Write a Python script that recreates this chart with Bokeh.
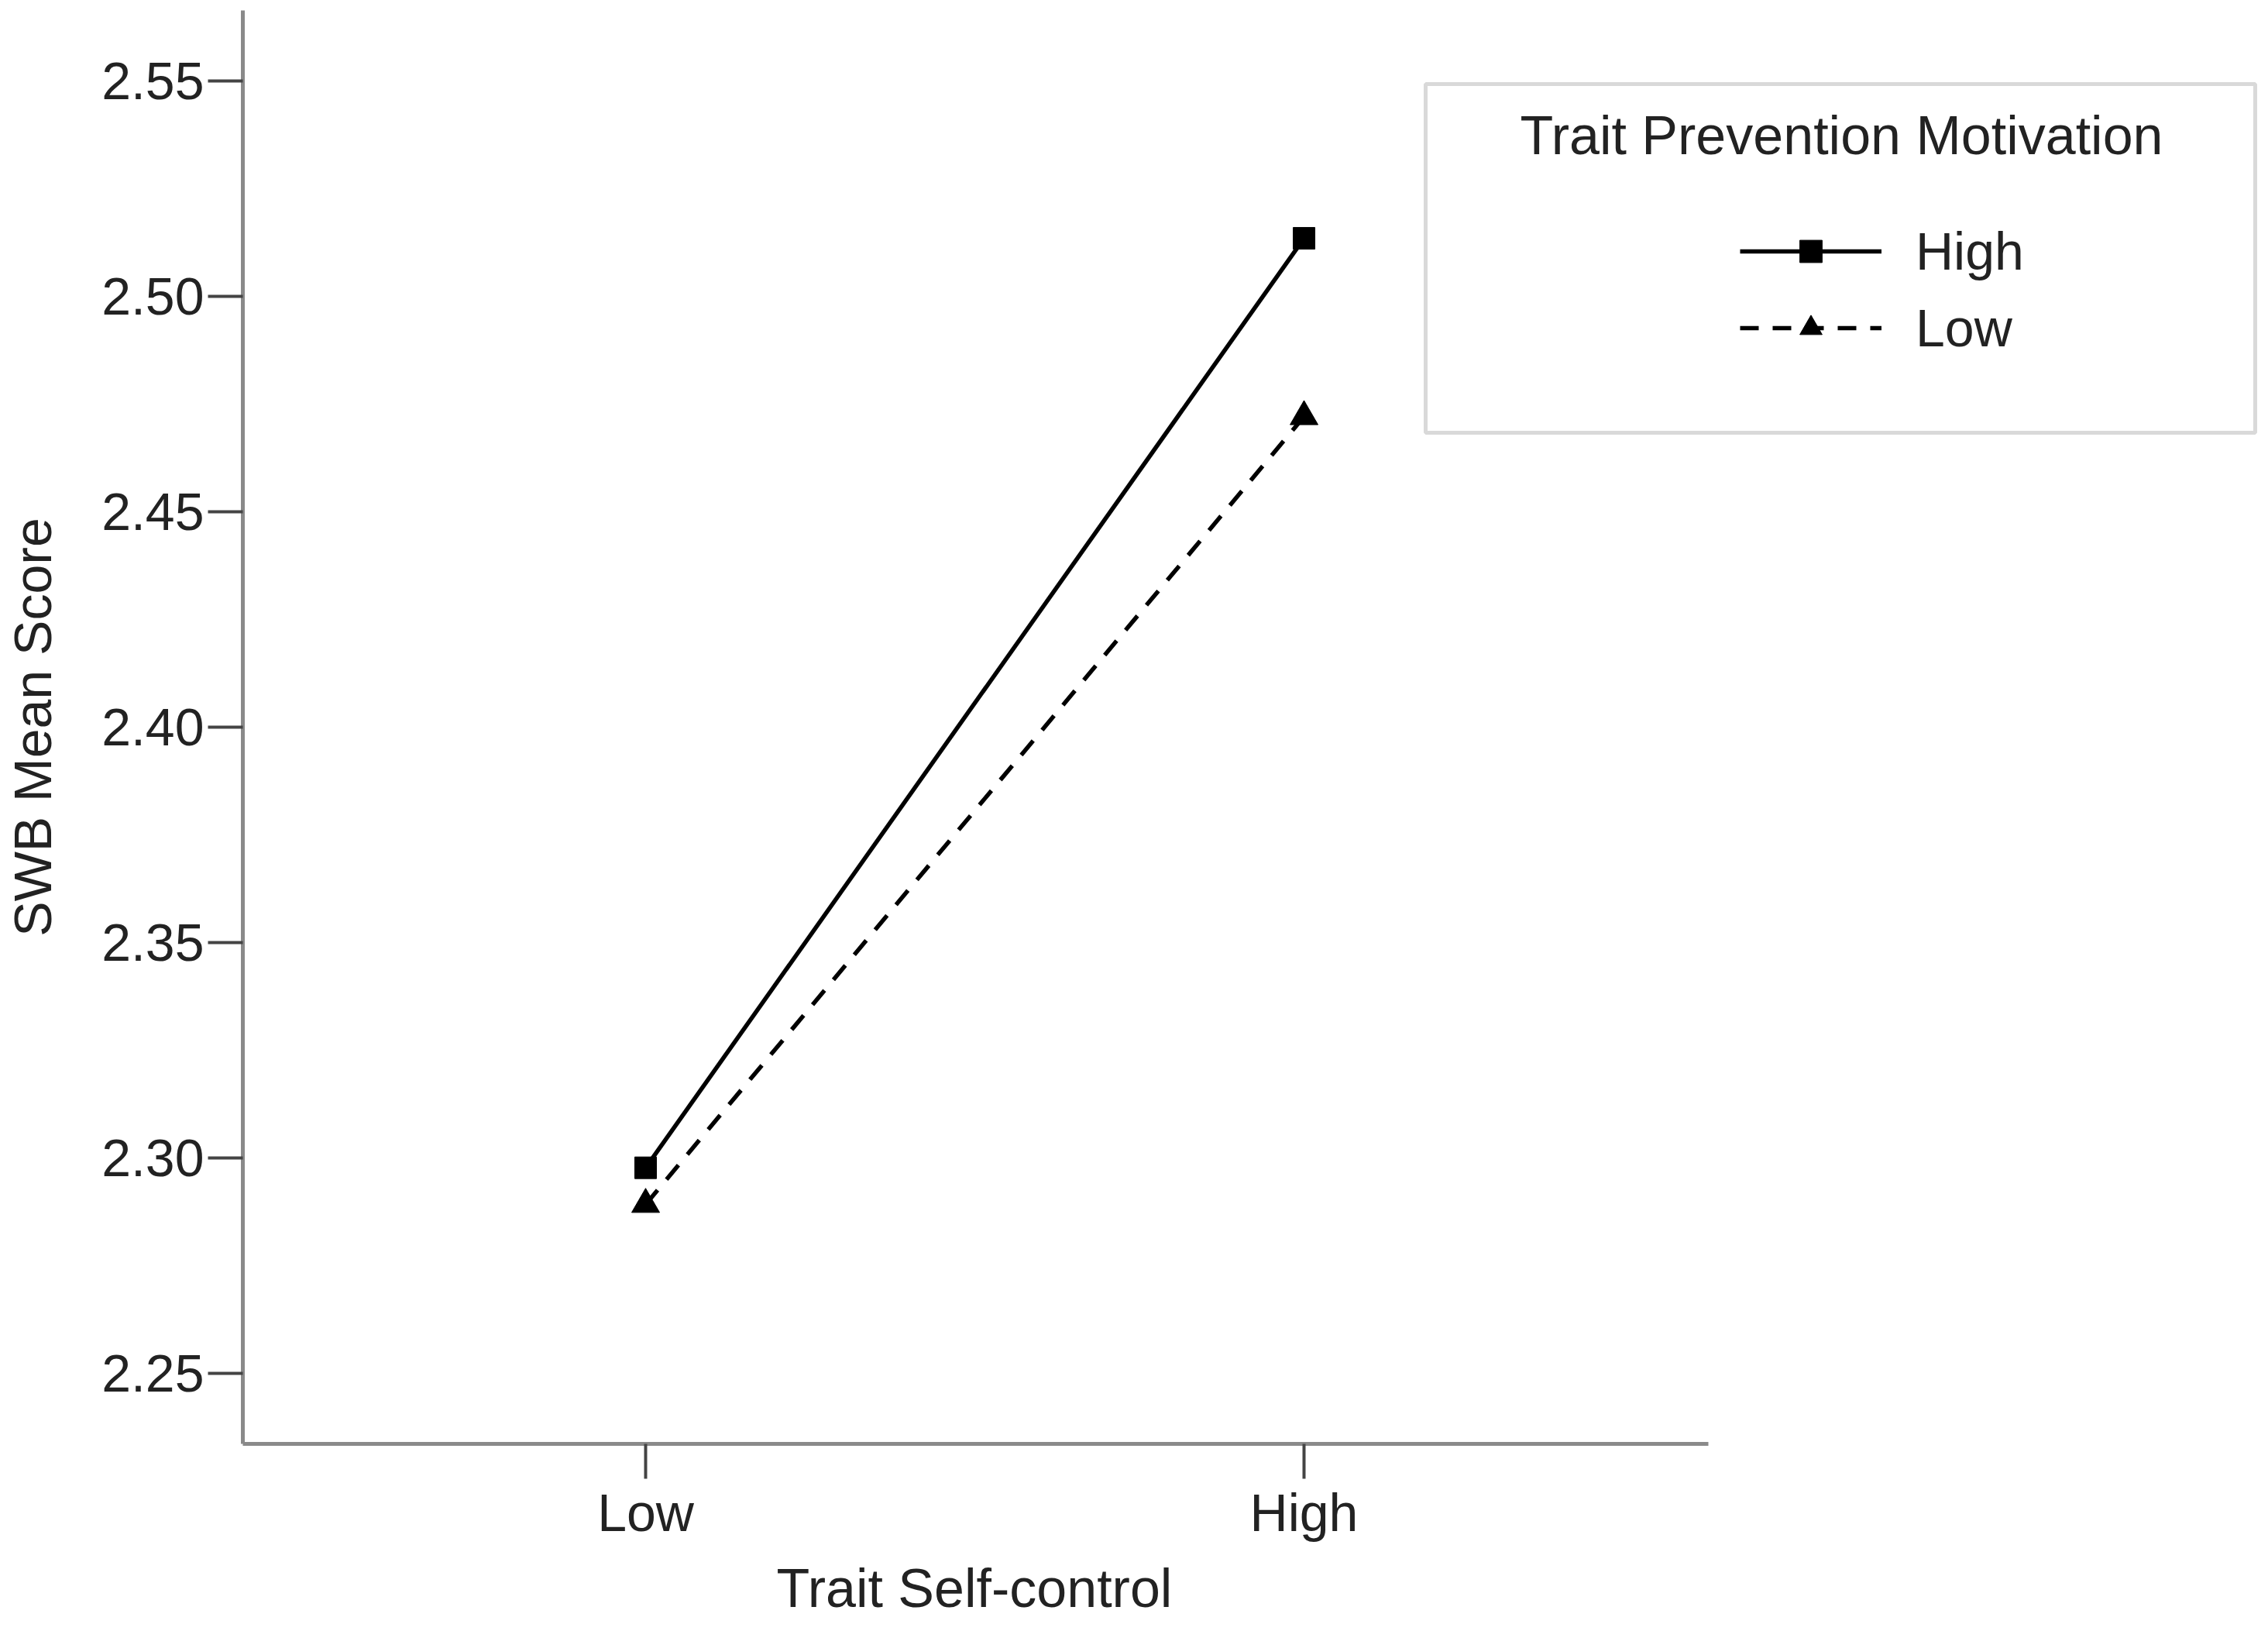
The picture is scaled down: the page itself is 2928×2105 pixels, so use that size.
from bokeh.plotting import figure
from bokeh.models import Range1d, FixedTicker, Legend, LegendItem, BoxAnnotation, Label, Title, NumeralTickFormatter
from bokeh.embed import file_html
from bokeh.resources import INLINE

# ---- data ----
categories = ["Low", "High"]                 # Trait Self-control
prev_high = [2.2977, 2.5135]                 # Trait Prevention Motivation: High
prev_low = [2.2892, 2.4721]                  # Trait Prevention Motivation: Low
y_ticks = [2.25, 2.30, 2.35, 2.40, 2.45, 2.50, 2.55]
series_names = ["High", "Low"]
legend_title = "Trait Prevention Motivation"
x_title = "Trait Self-control"
y_title = "SWB Mean Score"

FONT = "Liberation Sans"
FS = "68px"
TXT = "#222222"
AXC = "#8a8a8a"

xs = list(range(len(categories)))

p = figure(width=2928, height=2105,
           x_range=Range1d(-0.6118, 2.4647), y_range=Range1d(2.2336, 2.5664),
           output_backend="svg", toolbar_location=None,
           min_border_left=313, min_border_right=0, min_border_top=13, min_border_bottom=242)
p.outline_line_color = None
p.grid.visible = False
p.background_fill_color = "white"
p.border_fill_color = "white"

# axes
p.xaxis.ticker = FixedTicker(ticks=xs)
p.xaxis.major_label_overrides = {i: c for i, c in zip(xs, categories)}
p.xaxis.bounds = (-0.6118, 1.6141)
p.yaxis.ticker = FixedTicker(ticks=y_ticks)
p.yaxis.formatter = NumeralTickFormatter(format="0.00")
for ax in (p.xaxis[0], p.yaxis[0]):
    ax.axis_line_color = AXC
    ax.axis_line_width = 5
    ax.major_tick_line_color = "#444444"
    ax.major_tick_line_width = 4
    ax.major_tick_in = 0
    ax.major_tick_out = 45
    ax.minor_tick_line_color = None
    ax.major_label_text_font = FONT
    ax.major_label_text_font_size = FS
    ax.major_label_text_color = TXT
    ax.major_label_standoff = 5
    ax.axis_label_text_font = FONT
    ax.axis_label_text_font_size = FS
    ax.axis_label_text_font_style = "normal"
    ax.axis_label_text_color = TXT
p.yaxis.axis_label = y_title
p.yaxis.axis_label_standoff = 48

# x-axis title, centred under the visible part of the axis
p.add_layout(Title(text=x_title, align="left", offset=689, standoff=32,
                   vertical_align="bottom",
                   text_font=FONT, text_font_size="70px", text_font_style="normal",
                   text_color=TXT), "below")

# series
l_high = p.line(xs, prev_high, line_color="black", line_width=5.5)
s_high = p.scatter(xs, prev_high, marker="square", size=28, fill_color="black", line_color="black")
l_low = p.line(xs, prev_low, line_color="black", line_width=5.5, line_dash="24 18")
s_low = p.scatter(xs, prev_low, marker="triangle", size=36, fill_color="black", line_color="black")

# legend box and title
box = BoxAnnotation(left=1527, right=2598, top=1755, bottom=1305,
                    left_units="screen", right_units="screen",
                    top_units="screen", bottom_units="screen",
                    fill_alpha=0, line_color="#808080", line_width=5)
p.add_layout(box)
p.add_layout(Label(x=2064, y=1689, x_units="screen", y_units="screen",
                   text=legend_title, text_align="center", text_baseline="alphabetic",
                   text_font=FONT, text_font_size="70px", text_color=TXT))

legend = Legend(items=[LegendItem(label=series_names[0], renderers=[l_high, s_high]),
                       LegendItem(label=series_names[1], renderers=[l_low, s_low])],
                location=(1933, 1400), padding=0, margin=0, spacing=19,
                glyph_width=183, glyph_height=72, label_height=80, label_standoff=44,
                label_text_font=FONT, label_text_font_size=FS, label_text_color=TXT,
                border_line_alpha=0, background_fill_alpha=0)
p.add_layout(legend)

open("out.html", "w").write(file_html(p, INLINE))
